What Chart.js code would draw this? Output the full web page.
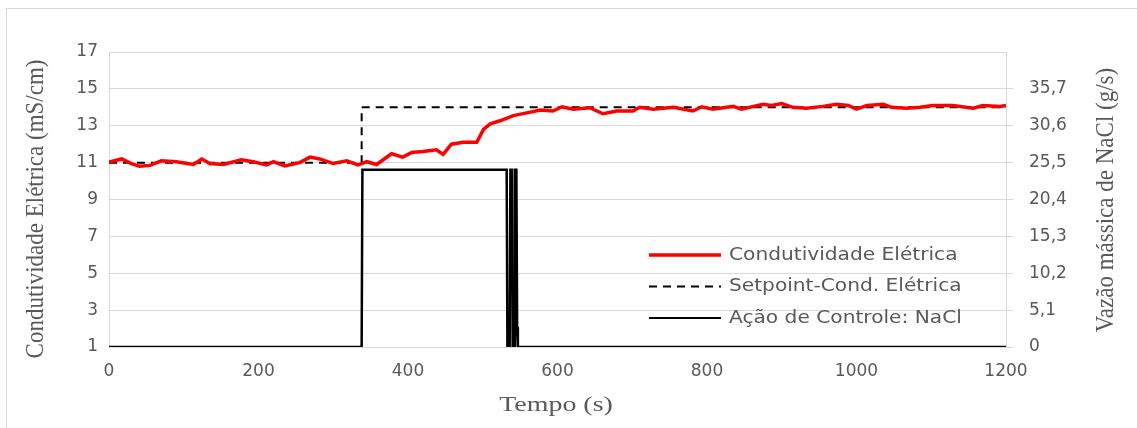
<!DOCTYPE html>
<html>
<head>
<meta charset="utf-8">
<script src="https://cdn.jsdelivr.net/npm/chart.js@4.4.1/dist/chart.umd.min.js"></script>
<style>
   body { margin: 0; background: #fff; }
   #wrap { position: relative; width: 1137px; height: 428px; overflow: hidden; }
   #frame { position: absolute; left: 6px; top: 8px; width: 1200px; height: 500px; border: 1px solid #d9d9d9; box-sizing: border-box; }
   canvas { position: absolute; left: 0; top: 0; }
</style>
</head>
<body>
<div id="wrap">
   <div id="frame"></div>
   <canvas id="chart" width="1137" height="428"></canvas>
</div>
<script>
// Data
// ----------------------------------------------
const tempoCond = [0, 17, 30, 41, 55, 70, 90, 113, 124, 135, 153, 177, 193, 211, 220, 235, 255, 269, 282, 300, 318, 333, 345, 358, 378, 393, 405, 420, 438, 447, 458, 474, 492, 501, 510, 523, 541, 559, 577, 594, 606, 621, 643, 661, 679, 701, 710, 728, 755, 781, 793, 808, 835, 846, 875, 886, 900, 915, 933, 955, 973, 989, 1000, 1014, 1036, 1047, 1067, 1085, 1102, 1129, 1156, 1169, 1192, 1200];
const condutividade = [11.03, 11.2, 10.95, 10.8, 10.85, 11.1, 11.05, 10.9, 11.2, 10.95, 10.9, 11.15, 11.05, 10.88, 11.05, 10.82, 11.0, 11.3, 11.2, 10.95, 11.1, 10.88, 11.05, 10.9, 11.48, 11.3, 11.55, 11.6, 11.7, 11.45, 12.0, 12.1, 12.1, 12.8, 13.1, 13.27, 13.55, 13.7, 13.85, 13.8, 14.03, 13.9, 13.98, 13.65, 13.8, 13.8, 14.0, 13.9, 14.0, 13.8, 14.03, 13.9, 14.05, 13.9, 14.17, 14.1, 14.2, 14.0, 13.95, 14.05, 14.17, 14.1, 13.9, 14.1, 14.17, 14.0, 13.95, 14.0, 14.1, 14.1, 13.95, 14.1, 14.05, 14.1];

const tempoSetpoint = [0, 338, 338, 1200];
const setpoint = [11, 11, 14, 14];

const tempoControle = [0, 338, 339, 532, 533, 536, 537, 539, 540, 542, 543, 545, 546, 547, 1200];
const vazaoNaCl = [0, 0, 24.5, 24.5, 0, 0, 24.5, 24.5, 0, 0, 24.5, 24.5, 2.8, 0, 0];

const xTicks = [0, 200, 400, 600, 800, 1000, 1200];
const leftTicks = [1, 3, 5, 7, 9, 11, 13, 15, 17];
const rightTickValues = [0, 5.1, 10.2, 15.3, 20.4, 25.5, 30.6, 35.7];
const rightTickLabels = ['0', '5,1', '10,2', '15,3', '20,4', '25,5', '30,6', '35,7'];

const seriesNames = ['Condutividade Elétrica', 'Setpoint-Cond. Elétrica', 'Ação de Controle: NaCl'];

const toPoints = (xs, ys) => xs.map((x, i) => ({ x: x, y: ys[i] }));

// Colors and fonts
// ----------------------------------------------
const textColor = '#595959';
const gridColor = '#d9d9d9';
const tickFont  = { family: 'DejaVu Sans', size: 17 };

// Titles and legend drawn by hand (right title reads bottom to top)
// ----------------------------------------------
const decorPlugin = {
   id: 'decor',
   afterDraw(chart) {
      const ctx = chart.ctx;
      ctx.save();
      ctx.fillStyle = textColor;
      ctx.textAlign = 'center';
      ctx.textBaseline = 'middle';

      // x title, slightly widened like the original
      ctx.font = '22px "Liberation Serif"';
      ctx.save();
      ctx.translate(556, 405);
      ctx.scale(1.27, 1);
      ctx.fillText('Tempo (s)', 0, 0);
      ctx.restore();

      ctx.font = '23px "Liberation Serif"';
      ctx.save();
      ctx.translate(36, 209);
      ctx.rotate(-Math.PI / 2);
      ctx.scale(1, 1.1);
      ctx.fillText('Condutividade Elétrica (mS/cm)', 0, 0);
      ctx.restore();

      ctx.save();
      ctx.translate(1106, 200);
      ctx.rotate(-Math.PI / 2);
      ctx.scale(1, 1.1);
      ctx.fillText('Vazão mássica de NaCl (g/s)', 0, 0);
      ctx.restore();

      // Legend
      const styles = [
         { color: '#ff0000', width: 3.5, dash: [] },
         { color: '#000000', width: 2, dash: [8, 6] },
         { color: '#000000', width: 2, dash: [] }
      ];
      ctx.font = '18px "DejaVu Sans"';
      ctx.textAlign = 'left';
      seriesNames.forEach((name, i) => {
         const y = 255 + i * 31.5;
         ctx.beginPath();
         ctx.setLineDash(styles[i].dash);
         ctx.strokeStyle = styles[i].color;
         ctx.lineWidth = styles[i].width;
         ctx.moveTo(649, y);
         ctx.lineTo(721, y);
         ctx.stroke();
         ctx.fillStyle = textColor;
         ctx.save();
         ctx.translate(729, y);
         ctx.scale(1.12, 1);
         ctx.fillText(name, 0, 0);
         ctx.restore();
      });
      ctx.restore();
   }
};

new Chart(document.getElementById('chart'), {
   type: 'line',
   data: {
      datasets: [
         {
            label: seriesNames[0],
            data: toPoints(tempoCond, condutividade),
            borderColor: '#ff0000',
            borderWidth: 3.5,
            yAxisID: 'y',
            order: 1
         },
         {
            label: seriesNames[1],
            data: toPoints(tempoSetpoint, setpoint),
            borderColor: '#000000',
            borderWidth: 2,
            borderDash: [8, 6],
            yAxisID: 'y',
            order: 2
         },
         {
            label: seriesNames[2],
            data: toPoints(tempoControle, vazaoNaCl),
            borderColor: '#000000',
            borderWidth: 2.5,
            yAxisID: 'y1',
            order: 3
         }
      ]
   },
   options: {
      responsive: false,
      animation: false,
      layout: { padding: { top: 52, left: 0, right: 0, bottom: 0 } },
      elements: {
         point: { radius: 0 },
         line: { tension: 0, fill: false, borderCapStyle: 'butt' }
      },
      plugins: {
         legend: { display: false },
         tooltip: { enabled: false }
      },
      scales: {
         x: {
            type: 'linear',
            min: 0,
            max: 1200,
            afterBuildTicks: (axis) => { axis.ticks = xTicks.map(v => ({ value: v })); },
            afterFit: (axis) => { axis.height = 81; },
            grid: { display: false, drawTicks: false },
            border: { display: true, color: gridColor },
            ticks: { font: tickFont, color: textColor, padding: 14, maxRotation: 0, callback: (v) => String(v) }
         },
         y: {
            position: 'left',
            min: 1,
            max: 17,
            afterBuildTicks: (axis) => { axis.ticks = leftTicks.map(v => ({ value: v })); },
            afterFit: (axis) => { axis.width = 109; },
            grid: { color: gridColor, drawTicks: false },
            border: { display: true, color: gridColor },
            ticks: { font: tickFont, color: textColor, padding: 11, callback: (v) => String(v) }
         },
         y1: {
            position: 'right',
            min: 0,
            max: 40.8,
            afterBuildTicks: (axis) => { axis.ticks = rightTickValues.map(v => ({ value: v })); },
            afterFit: (axis) => { axis.width = 131; },
            grid: { drawOnChartArea: false, color: gridColor, tickLength: 7 },
            border: { display: true, color: gridColor },
            ticks: {
               font: tickFont,
               color: textColor,
               padding: 16,
               callback: (value, index) => rightTickLabels[index]
            }
         }
      }
   },
   plugins: [decorPlugin]
});
</script>
</body>
</html>
